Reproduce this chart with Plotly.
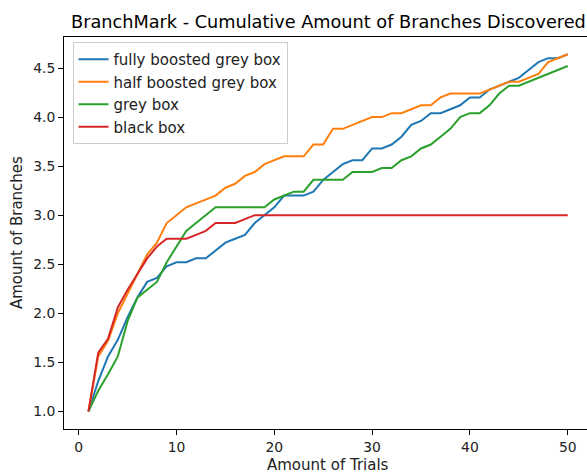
import plotly.graph_objects as go

trials = list(range(1, 51))

fully_boosted = [1.0, 1.31, 1.56, 1.73, 1.96, 2.16, 2.32, 2.36, 2.48, 2.52,
                 2.52, 2.56, 2.56, 2.64, 2.72, 2.76, 2.8, 2.92, 3.0, 3.08,
                 3.2, 3.2, 3.2, 3.24, 3.36, 3.44, 3.52, 3.56, 3.56, 3.68,
                 3.68, 3.72, 3.8, 3.92, 3.96, 4.04, 4.04, 4.08, 4.12, 4.2,
                 4.2, 4.28, 4.32, 4.36, 4.4, 4.48, 4.56, 4.6, 4.6, 4.64]

half_boosted = [1.0, 1.56, 1.72, 2.0, 2.2, 2.4, 2.6, 2.72, 2.92, 3.0,
                3.08, 3.12, 3.16, 3.2, 3.28, 3.32, 3.4, 3.44, 3.52, 3.56,
                3.6, 3.6, 3.6, 3.72, 3.72, 3.88, 3.88, 3.92, 3.96, 4.0,
                4.0, 4.04, 4.04, 4.08, 4.12, 4.12, 4.2, 4.24, 4.24, 4.24,
                4.24, 4.28, 4.32, 4.36, 4.36, 4.4, 4.44, 4.56, 4.6, 4.64]

grey_box = [1.0, 1.21, 1.38, 1.56, 1.92, 2.16, 2.24, 2.32, 2.52, 2.68,
            2.84, 2.92, 3.0, 3.08, 3.08, 3.08, 3.08, 3.08, 3.08, 3.16,
            3.2, 3.24, 3.24, 3.36, 3.36, 3.36, 3.36, 3.44, 3.44, 3.44,
            3.48, 3.48, 3.56, 3.6, 3.68, 3.72, 3.8, 3.88, 4.0, 4.04,
            4.04, 4.12, 4.24, 4.32, 4.32, 4.36, 4.4, 4.44, 4.48, 4.52]

black_box = [1.0, 1.6, 1.74, 2.06, 2.24, 2.4, 2.56, 2.68, 2.76, 2.76,
             2.76, 2.8, 2.84, 2.92, 2.92, 2.92, 2.96, 3.0, 3.0, 3.0,
             3.0, 3.0, 3.0, 3.0, 3.0, 3.0, 3.0, 3.0, 3.0, 3.0,
             3.0, 3.0, 3.0, 3.0, 3.0, 3.0, 3.0, 3.0, 3.0, 3.0,
             3.0, 3.0, 3.0, 3.0, 3.0, 3.0, 3.0, 3.0, 3.0, 3.0]

series_names = ["fully boosted grey box", "half boosted grey box", "grey box", "black box"]
series_values = [fully_boosted, half_boosted, grey_box, black_box]
colors = ["#1f77b4", "#ff7f0e", "#2ca02c", "#d62728"]

x_ticks = [0, 10, 20, 30, 40, 50]
y_ticks = [1.0, 1.5, 2.0, 2.5, 3.0, 3.5, 4.0, 4.5]

FONT = "DejaVu Sans"
W, H = 587, 474
L, R, T, B = 64, 0, 37, 45

fig = go.Figure()
for i, (name, vals, c) in enumerate(zip(series_names, series_values, colors)):
    fig.add_trace(go.Scatter(x=trials, y=vals, mode="lines", name=name,
                             legendgroup=f"g{i}",
                             line=dict(color=c, width=2)))

axis_common = dict(showgrid=False, zeroline=False, showline=True,
                   linecolor="black", linewidth=1, ticks="outside",
                   ticklen=5, tickwidth=1, tickcolor="black",
                   tickfont=dict(family=FONT, size=13.9, color="#222222"))

fig.update_xaxes(range=[-1.50, 51.97], tickvals=x_ticks, mirror=True, **axis_common)
fig.update_yaxes(range=[0.821, 4.816], tickvals=y_ticks, tickformat=".1f",
                 mirror=False, **axis_common)

pw = W - L - R
ph = H - T - B

def px_x(p):
    return (p - L) / pw

def px_y(p):
    return (H - B - p) / ph

fig.update_layout(
    width=W, height=H,
    margin=dict(l=L, r=R, t=T, b=B, pad=0),
    paper_bgcolor="white", plot_bgcolor="white",
    font=dict(family=FONT, color="#222222"),
    showlegend=True,
    legend=dict(x=px_x(72.5), y=px_y(42), xanchor="left", yanchor="top",
                bgcolor="rgba(255,255,255,0.8)", bordercolor="#cccccc",
                borderwidth=1, font=dict(family=FONT, size=15, color="#222222"),
                tracegroupgap=0, itemwidth=30),
    annotations=[
        dict(text="BranchMark - Cumulative Amount of Branches Discovered",
             xref="paper", yref="paper", x=px_x(328), y=px_y(21.5),
             xanchor="center", yanchor="middle", showarrow=False,
             font=dict(family=FONT, size=17.7, color="black")),
        dict(text="Amount of Trials", xref="paper", yref="paper",
             x=px_x(328), y=px_y(465), xanchor="center", yanchor="middle",
             showarrow=False, font=dict(family=FONT, size=15, color="#222222")),
        dict(text="Amount of Branches", xref="paper", yref="paper",
             x=px_x(17), y=px_y(233), xanchor="center", yanchor="middle",
             textangle=-90, showarrow=False,
             font=dict(family=FONT, size=15, color="#222222")),
    ],
)

fig.write_html("out.html")
